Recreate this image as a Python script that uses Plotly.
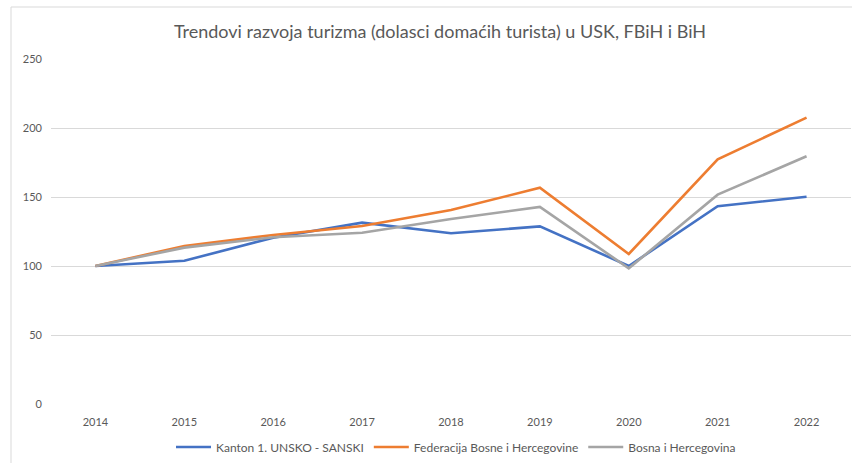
import plotly.graph_objects as go

years = ["2014", "2015", "2016", "2017", "2018", "2019", "2020", "2021", "2022"]
usk = [100, 103.8, 120.5, 131.4, 123.7, 128.7, 100, 143.3, 150.2]
fbih = [100, 114.5, 122.5, 129, 140.6, 156.7, 108.7, 177.3, 207.5]
bih = [100, 113.3, 120.8, 124.1, 134, 142.8, 98.3, 151.7, 179.5]
names = ["Kanton 1. UNSKO - SANSKI", "Federacija Bosne i Hercegovine", "Bosna i Hercegovina"]
colors = ["#4472C4", "#ED7D31", "#A5A5A5"]
title = "Trendovi razvoja turizma (dolasci domaćih turista) u USK, FBiH i BiH"

W, H = 852, 463
L, R, T, B = 51, 1, 59, 59
pw, ph = W - L - R, H - T - B

fig = go.Figure()
for vals, nm, c in zip([usk, fbih, bih], names, colors):
    fig.add_trace(go.Scatter(x=years, y=vals, name=nm, mode="lines",
                             line=dict(color=c, width=2.6)))

fig.update_layout(
    width=W, height=H,
    margin=dict(l=L, r=R, t=T, b=B, autoexpand=False),
    paper_bgcolor="white", plot_bgcolor="white",
    font=dict(family="Lato, Open Sans, sans-serif", color="#595959", size=11),
    title=dict(text=title, x=440 / W, xanchor="center", xref="container",
               y=1 - 32 / H, yanchor="middle", yref="container",
               font=dict(size=18, color="#595959", family="Lato, Open Sans, sans-serif")),
    showlegend=True,
    legend=dict(orientation="h", x=(456 - L) / pw, xanchor="center", y=(404 - 447) / ph, yanchor="middle",
                font=dict(size=12, color="#595959"), itemwidth=35, tracegroupgap=0,
                bgcolor="rgba(0,0,0,0)"),
    shapes=[dict(type="rect", xref="paper", yref="paper",
                 x0=(11 - L) / pw, x1=1.5, y0=-1.0, y1=(404 - 7) / ph,
                 line=dict(color="#D9D9D9", width=1), fillcolor="rgba(0,0,0,0)", layer="below")],
)
fig.update_xaxes(type="category", range=[-0.5, 8.5], showgrid=False, showline=False,
                 ticks="", tickfont=dict(size=11, color="#595959"), zeroline=False,
                 ticklabelstandoff=10)
fig.update_yaxes(range=[0, 250], dtick=50, showgrid=True, gridcolor="#D9D9D9", gridwidth=1,
                 zeroline=False, showline=False, ticks="",
                 tickfont=dict(size=11, color="#595959"), ticklabelstandoff=8)

fig.write_html("out.html", config={"displayModeBar": False},
               post_script="document.body.style.margin='0';")
